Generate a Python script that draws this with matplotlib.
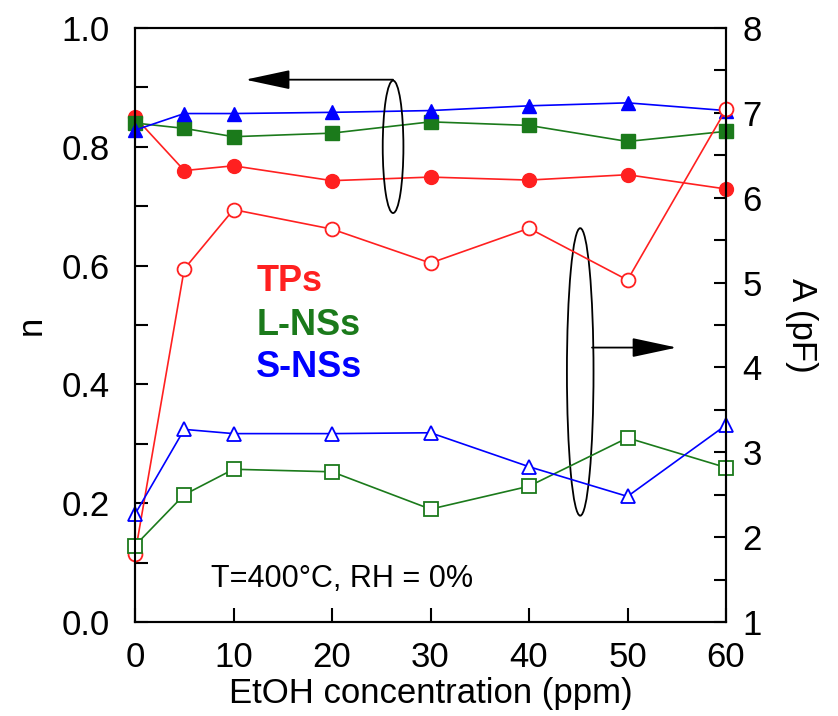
import matplotlib.pyplot as plt
from matplotlib.patches import Ellipse
from matplotlib.ticker import MultipleLocator

plt.rcParams['font.family'] = ['Liberation Sans', 'DejaVu Sans']

conc = [0, 5, 10, 20, 30, 40, 50, 60]

# n (left axis, filled markers)
n_tps = [0.850, 0.760, 0.768, 0.743, 0.749, 0.744, 0.753, 0.729]
n_lns = [0.840, 0.831, 0.817, 0.823, 0.842, 0.836, 0.809, 0.826]
n_sns = [0.828, 0.856, 0.856, 0.858, 0.861, 0.869, 0.874, 0.861]

# A in pF (right axis, open markers)
a_tps = [1.80, 5.16, 5.86, 5.63, 5.23, 5.64, 5.03, 7.04]
a_lns = [1.90, 2.50, 2.80, 2.77, 2.33, 2.60, 3.17, 2.82]
a_sns = [2.27, 3.27, 3.22, 3.22, 3.23, 2.83, 2.48, 3.32]

red = '#ff2020'
green = '#1b7a1b'
blue = '#0000ff'

fig, ax = plt.subplots(figsize=(8.38, 7.16), dpi=100)
fig.subplots_adjust(left=135/838, right=726/838, top=1-28/716, bottom=1-622/716)
ax2 = ax.twinx()

ms = 10
lw = 1.2
ax.plot(conc, n_tps, '-o', color=red, ms=ms, lw=lw, clip_on=False)
ax.plot(conc, n_lns, '-s', color=green, ms=ms, lw=lw, clip_on=False)
ax.plot(conc, n_sns, '-^', color=blue, ms=ms, lw=lw, clip_on=False)

ax2.plot(conc, a_tps, '-o', color=red, mfc='white', mec=red, mew=1.3, ms=ms, lw=lw, clip_on=False)
ax2.plot(conc, a_lns, '-s', color=green, mfc='white', mec=green, mew=1.3, ms=ms, lw=lw, clip_on=False)
ax2.plot(conc, a_sns, '-^', color=blue, mfc='white', mec=blue, mew=1.3, ms=ms, lw=lw, clip_on=False)

ax.set_xlim(0, 60)
ax.set_ylim(0, 1)
ax2.set_ylim(1, 8)
ax.xaxis.set_major_locator(MultipleLocator(10))
ax.yaxis.set_major_locator(MultipleLocator(0.2))
ax.yaxis.set_minor_locator(MultipleLocator(0.1))
ax2.yaxis.set_major_locator(MultipleLocator(1))
ax2.yaxis.set_minor_locator(MultipleLocator(0.5))

fs = 25
ax.tick_params(axis='x', which='both', direction='in', length=10, width=1.5, labelsize=fs, pad=14, top=False)
ax.tick_params(axis='y', which='both', direction='in', length=9, width=1.5, labelsize=fs, pad=18, right=False)
ax2.tick_params(axis='y', which='both', direction='in', length=9, width=1.5, labelsize=fs, pad=12)
ax.yaxis.set_major_formatter(plt.FormatStrFormatter('%.1f'))
for a in (ax, ax2):
    for s in a.spines.values():
        s.set_linewidth(1.5)

ax.set_xlabel('EtOH concentration (ppm)', fontsize=fs, labelpad=2)
ax.set_ylabel('n', fontsize=fs, labelpad=10)
ax2.set_ylabel('A (pF)', fontsize=fs, rotation=270, labelpad=40)

ax.text(12.3, 0.574, 'TPs', color=red, fontsize=26, fontweight='bold', va='center')
ax.text(12.3, 0.500, 'L-NSs', color=green, fontsize=26, fontweight='bold', va='center')
ax.text(12.3, 0.429, 'S-NSs', color=blue, fontsize=26, fontweight='bold', va='center')
ax.text(7.7, 0.072, 'T=400\u00b0C, RH = 0%', fontsize=22, va='center')

ax.add_patch(Ellipse((26.2, 0.80), 2.1, 0.223, fill=False, ec='k', lw=1.3, zorder=5))
ax.add_patch(Ellipse((45.2, 0.421), 2.7, 0.484, fill=False, ec='k', lw=1.3, zorder=5))
arrow = dict(arrowstyle='-|>,head_length=1.4,head_width=0.3', color='k', lw=1.3,
             shrinkA=0, shrinkB=0, mutation_scale=20)
ax.annotate('', xy=(11.2, 0.913), xytext=(26.2, 0.913), arrowprops=arrow, zorder=6)
ax.annotate('', xy=(55.0, 0.462), xytext=(46.4, 0.462), arrowprops=arrow, zorder=6)

fig.savefig('out.png', dpi=100)
